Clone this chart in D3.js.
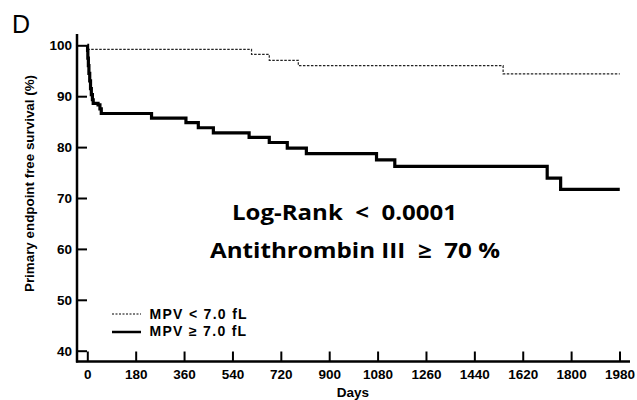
<!DOCTYPE html>
<html>
<head>
<meta charset="utf-8">
<script src="https://cdn.jsdelivr.net/npm/d3@7"></script>
<style>
  body { margin: 0; background: #fff; }
  svg { display: block; }
  text { font-family: "Liberation Sans", Arial, sans-serif; fill: #000; }
</style>
</head>
<body>
<svg id="chart" width="637" height="400"></svg>
<script>
// survival curves, [day, % event free]
var lowMpv = [[0,100],[1,99.2],[611,98.2],[677,97.05],[785,96.0],[1547,94.4],[1981,94.4]];
var highMpv = [[0,100],[1,99],[2,97.5],[4,96],[6,94.5],[9,93],[12,91.5],[15,90.3],[19,89.3],[22,88.6],
  [40,88.3],[47,87.5],[52,86.6],[239,85.7],[367,84.8],[413,83.8],[469,82.8],[602,81.9],[677,80.9],
  [744,79.8],[815,78.7],[1076,77.5],[1144,76.2],[1711,73.9],[1761,71.7],[1981,71.7]];
var xTicks = [0,180,360,540,720,900,1080,1260,1440,1620,1800,1980];
var yTicks = [40,50,60,70,80,90,100];
var legendLabels = ["MPV < 7.0 fL", "MPV \u2265 7.0 fL"];
var notes = ["Log-Rank  <  0.0001", "Antithrombin III  \u2265  70 %"];

var svg = d3.select('#chart');
var x = d3.scaleLinear().domain([0, 1980]).range([87.3, 619.5]);
var y = d3.scaleLinear().domain([40, 100]).range([350.7, 45.3]);

// axes are offset 10px from the data origin, ticks point inward
var xAxis = svg.append('g').attr('transform', 'translate(0,361.5)')
  .call(d3.axisBottom(x).tickValues(xTicks).tickSize(-10).tickPadding(5).tickFormat(d3.format('d')));
var yAxis = svg.append('g').attr('transform', 'translate(77,0)')
  .call(d3.axisLeft(y).tickValues(yTicks).tickSize(-10).tickPadding(5));

[xAxis, yAxis].forEach(function(g){
  g.select('.domain').remove();
  g.selectAll('line').attr('stroke', '#000').attr('stroke-width', 2);
  g.selectAll('text').attr('font-size', '13.5px').attr('font-weight', 'bold')
    .attr('font-family', '"Liberation Sans", Arial, sans-serif').attr('fill', '#000');
});
xAxis.selectAll('text').attr('dy', '0.95em');
svg.append('line').attr('x1', 76).attr('x2', 630).attr('y1', 361.5).attr('y2', 361.5)
  .attr('stroke', '#000').attr('stroke-width', 2.5);
svg.append('line').attr('x1', 77).attr('x2', 77).attr('y1', 34).attr('y2', 362.5)
  .attr('stroke', '#000').attr('stroke-width', 2.5);

var line = d3.line().x(function(d){ return x(d[0]) }).y(function(d){ return y(d[1]) }).curve(d3.curveStepAfter);

svg.append('path').datum(lowMpv).attr('d', line)
  .attr('fill', 'none').attr('stroke', '#222').attr('stroke-width', 1.2).attr('stroke-dasharray', '2.5,1.5');
svg.append('path').datum(highMpv).attr('d', line)
  .attr('fill', 'none').attr('stroke', '#000').attr('stroke-width', 3.2);

// legend
var legend = svg.append('g');
legend.selectAll('line').data(legendLabels).enter().append('line')
  .attr('x1', 112).attr('x2', 141)
  .attr('y1', function(d,i){ return 314 + i*18 }).attr('y2', function(d,i){ return 314 + i*18 })
  .attr('stroke', '#000')
  .attr('stroke-width', function(d,i){ return i ? 2.5 : 1 })
  .attr('stroke-dasharray', function(d,i){ return i ? null : '2,1.5' });
legend.selectAll('text').data(legendLabels).enter().append('text')
  .attr('x', 149.5).attr('y', function(d,i){ return 318.5 + i*17.5 })
  .attr('font-size', '14px').attr('font-weight', 'bold').attr('letter-spacing', '1.3px')
  .text(function(d){ return d });

// annotations
svg.selectAll('.note').data(notes).enter().append('text').attr('class', 'note')
  .attr('x', function(d,i){ return i ? 210 : 232 })
  .attr('y', function(d,i){ return i ? 258 : 220 })
  .attr('textLength', function(d,i){ return i ? 290 : 225 })
  .attr('lengthAdjust', 'spacingAndGlyphs')
  .attr('font-size', '21px').attr('font-weight', 'bold')
  .style('font-family', '"Open Sans", "Noto Sans", sans-serif')
  .style('white-space', 'pre')
  .text(function(d){ return d });

svg.append('text').attr('x', 12).attr('y', 33).attr('font-size', '25px').text('D');

svg.append('text').attr('transform', 'translate(34,183.5) rotate(-90)')
  .attr('text-anchor', 'middle').attr('font-size', '13.5px').attr('font-weight', 'bold')
  .attr('textLength', 217).attr('lengthAdjust', 'spacingAndGlyphs')
  .text('Primary endpoint free survival (%)');

svg.append('text').attr('x', 353).attr('y', 397).attr('text-anchor', 'middle')
  .attr('font-size', '13.5px').attr('font-weight', 'bold').text('Days');
</script>
</body>
</html>
